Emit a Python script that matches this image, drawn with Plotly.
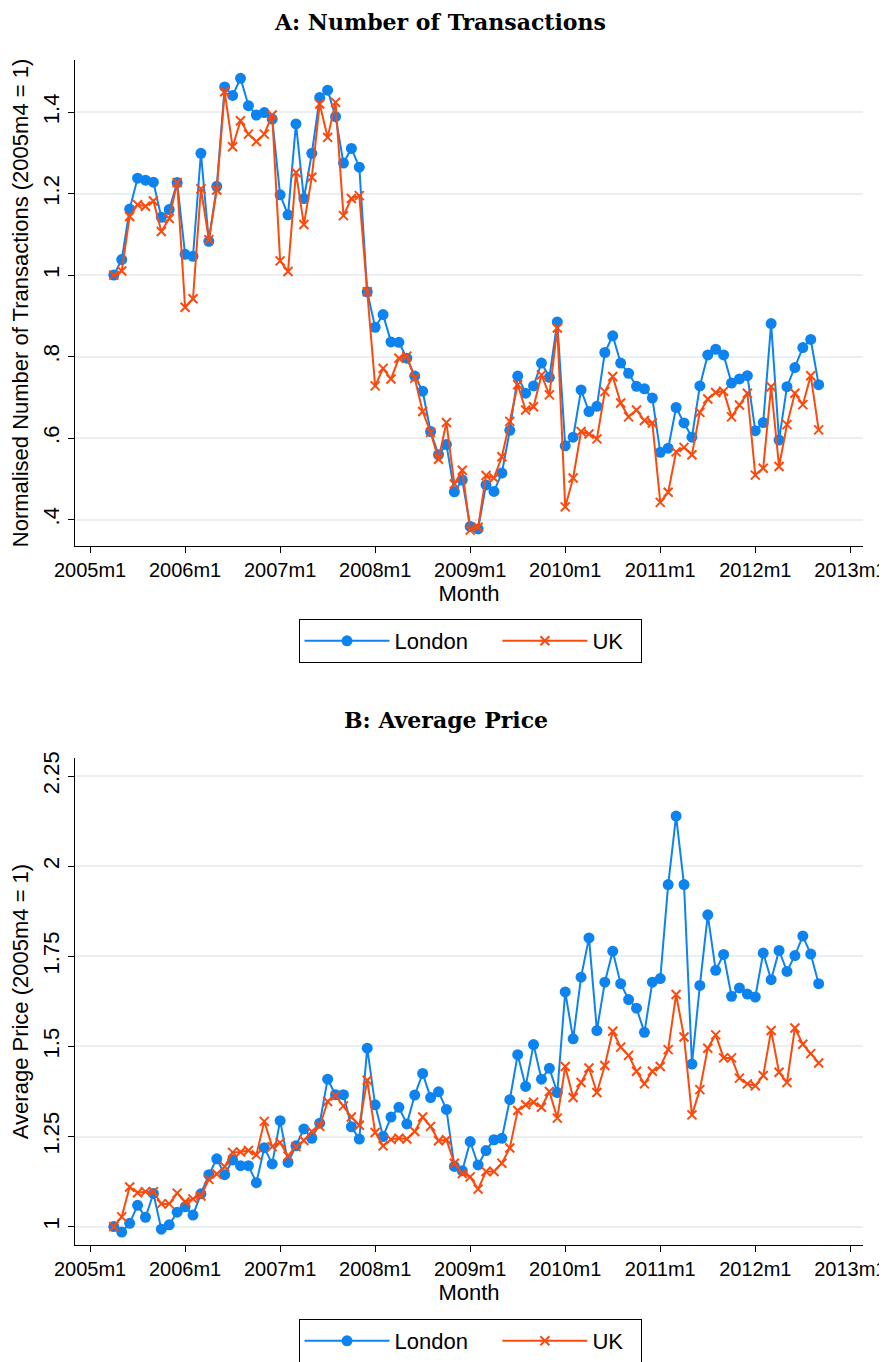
import plotly.graph_objects as go

# Months since 2005m1 (2005m4 .. 2012m9)
month_index = list(range(3, 93))

tick_months = [0, 12, 24, 36, 48, 60, 72, 84, 96]
tick_labels = ["2005m1", "2006m1", "2007m1", "2008m1", "2009m1", "2010m1", "2011m1", "2012m1", "2013m1"]

trans_london = [1.000, 1.038, 1.162, 1.238, 1.233, 1.228, 1.142, 1.161, 1.227, 1.051,
                1.046, 1.299, 1.083, 1.218, 1.462, 1.441, 1.483, 1.416, 1.393, 1.399,
                1.383, 1.197, 1.148, 1.371, 1.188, 1.299, 1.436, 1.454, 1.389, 1.275,
                1.311, 1.265, 0.959, 0.872, 0.903, 0.836, 0.835, 0.796, 0.752, 0.715,
                0.616, 0.559, 0.584, 0.468, 0.497, 0.383, 0.377, 0.485, 0.469, 0.514,
                0.619, 0.752, 0.710, 0.728, 0.784, 0.749, 0.885, 0.581, 0.602, 0.718,
                0.665, 0.678, 0.810, 0.851, 0.784, 0.759, 0.727, 0.721, 0.698, 0.565,
                0.575, 0.675, 0.637, 0.602, 0.728, 0.804, 0.818, 0.804, 0.735, 0.745,
                0.753, 0.618, 0.638, 0.881, 0.595, 0.726, 0.773, 0.822, 0.842, 0.731]

trans_uk = [1.000, 1.010, 1.144, 1.173, 1.169, 1.182, 1.107, 1.139, 1.227, 0.921,
            0.942, 1.212, 1.087, 1.209, 1.450, 1.315, 1.379, 1.346, 1.328, 1.346,
            1.393, 1.035, 1.009, 1.252, 1.124, 1.240, 1.420, 1.338, 1.424, 1.146,
            1.188, 1.195, 0.959, 0.728, 0.771, 0.745, 0.796, 0.801, 0.747, 0.665,
            0.614, 0.548, 0.638, 0.487, 0.521, 0.374, 0.381, 0.508, 0.502, 0.554,
            0.641, 0.731, 0.669, 0.677, 0.755, 0.706, 0.870, 0.431, 0.502, 0.616,
            0.610, 0.598, 0.714, 0.751, 0.686, 0.652, 0.669, 0.643, 0.637, 0.442,
            0.467, 0.566, 0.577, 0.559, 0.663, 0.696, 0.712, 0.715, 0.652, 0.681,
            0.710, 0.509, 0.526, 0.726, 0.530, 0.633, 0.710, 0.682, 0.753, 0.620]

price_london = [1.000, 0.985, 1.009, 1.059, 1.026, 1.092, 0.993, 1.005, 1.040, 1.055,
                1.032, 1.091, 1.144, 1.188, 1.144, 1.185, 1.169, 1.169, 1.122, 1.219,
                1.174, 1.294, 1.178, 1.224, 1.271, 1.245, 1.287, 1.409, 1.366, 1.366,
                1.277, 1.243, 1.495, 1.338, 1.250, 1.304, 1.331, 1.285, 1.365, 1.425,
                1.358, 1.374, 1.325, 1.167, 1.155, 1.236, 1.171, 1.211, 1.241, 1.245,
                1.352, 1.477, 1.389, 1.505, 1.409, 1.439, 1.372, 1.651, 1.521, 1.692,
                1.801, 1.544, 1.678, 1.764, 1.674, 1.630, 1.606, 1.539, 1.678, 1.688,
                1.949, 2.139, 1.949, 1.451, 1.669, 1.865, 1.711, 1.755, 1.639, 1.662,
                1.645, 1.637, 1.759, 1.685, 1.766, 1.708, 1.752, 1.806, 1.756, 1.674]

price_uk = [1.000, 1.027, 1.110, 1.094, 1.097, 1.097, 1.063, 1.063, 1.093, 1.069,
            1.077, 1.085, 1.131, 1.146, 1.166, 1.206, 1.207, 1.211, 1.199, 1.292,
            1.222, 1.233, 1.196, 1.222, 1.239, 1.264, 1.278, 1.347, 1.363, 1.335,
            1.304, 1.281, 1.406, 1.261, 1.224, 1.242, 1.245, 1.243, 1.264, 1.304,
            1.278, 1.238, 1.241, 1.176, 1.147, 1.138, 1.104, 1.153, 1.153, 1.176,
            1.218, 1.322, 1.338, 1.345, 1.331, 1.375, 1.301, 1.444, 1.358, 1.400,
            1.440, 1.372, 1.447, 1.542, 1.498, 1.475, 1.431, 1.396, 1.431, 1.444,
            1.491, 1.644, 1.526, 1.310, 1.380, 1.495, 1.532, 1.468, 1.468, 1.412,
            1.396, 1.391, 1.419, 1.544, 1.428, 1.400, 1.551, 1.506, 1.480, 1.454]

A_ticks = [0.4, 0.6, 0.8, 1.0, 1.2, 1.4]
A_ticktext = [".4", ".6", ".8", "1", "1.2", "1.4"]
B_ticks = [1.0, 1.25, 1.5, 1.75, 2.0, 2.25]
B_ticktext = ["1", "1.25", "1.5", "1.75", "2", "2.25"]

BLUE = "#0d83f0"
ORANGE = "#fb4a0e"
W, H = 887, 1362
OFF = 8  # page body margin shift

def px(x):
    return (x - OFF) / W

def py(y):
    return 1 - (y - OFF) / H

fig = go.Figure()

NB = "\u00a0"

def add_pair(london, uk, xa, ya, legend):
    fig.add_trace(go.Scatter(
        x=month_index, y=london, mode="lines+markers", name="London" + NB * 4,
        xaxis=xa, yaxis=ya, legend=legend,
        line=dict(color=BLUE, width=2),
        marker=dict(symbol="circle", size=11, color=BLUE)))
    fig.add_trace(go.Scatter(
        x=month_index, y=uk, mode="lines+markers", name="UK" + NB * 2,
        xaxis=xa, yaxis=ya, legend=legend,
        line=dict(color=ORANGE, width=2),
        marker=dict(symbol="x-thin", size=9, color=ORANGE,
                    line=dict(color=ORANGE, width=2))))

add_pair(trans_london, trans_uk, "x", "y", "legend")
add_pair(price_london, price_uk, "x2", "y2", "legend2")

xdom = [px(75), px(863)]
font_sans = "Liberation Sans, Arial, sans-serif"
FS = 22
axis_common = dict(showline=True, linecolor="black", linewidth=1,
                   ticks="outside", ticklen=6, tickcolor="black",
                   tickfont=dict(family=font_sans, size=FS, color="black"),
                   zeroline=False, automargin=False)

xcommon = dict(axis_common, range=[-1.9, 97.6], tickvals=tick_months,
               ticktext=tick_labels, showgrid=False, domain=xdom,
               ticklabeloverflow="allow",
               tickfont=dict(family=font_sans, size=20, color="black"),
               title=dict(text="Month", font=dict(family=font_sans, size=FS, color="black"),
                          standoff=0))

ycommon = dict(axis_common, tickangle=-90, showgrid=True, gridcolor="#e9eff3", gridwidth=1.5)

legend_common = dict(orientation="h", x=px(470), xanchor="center", yanchor="middle",
                     bordercolor="black", borderwidth=1, bgcolor="white",
                     font=dict(family=font_sans, size=FS, color="black"),
                     itemwidth=85, tracegroupgap=0)

fig.update_layout(
    width=W, height=H, margin=dict(l=0, r=0, t=0, b=0, autoexpand=False),
    plot_bgcolor="white", paper_bgcolor="white",
    showlegend=True,
    xaxis=dict(xcommon, anchor="y"),
    xaxis2=dict(xcommon, anchor="y2"),
    yaxis=dict(ycommon, domain=[py(546), py(60)], range=[0.335, 1.528],
               tickvals=A_ticks, ticktext=A_ticktext, anchor="x",
               title=dict(text="Normalised Number of Transactions (2005m4 = 1)",
                          font=dict(family=font_sans, size=FS, color="black"), standoff=8)),
    yaxis2=dict(ycommon, domain=[py(1245), py(758)], range=[0.949, 2.30],
                tickvals=B_ticks, ticktext=B_ticktext, anchor="x2",
                title=dict(text="Average Price (2005m4 = 1)",
                           font=dict(family=font_sans, size=FS, color="black"), standoff=8)),
    legend=dict(legend_common, y=py(641)),
    legend2=dict(legend_common, y=py(1341)),
    annotations=[
        dict(text="<b>A: Number of Transactions</b>", x=px(440), y=py(22), xref="paper", yref="paper",
             xanchor="center", yanchor="middle", showarrow=False,
             font=dict(family="DejaVu Serif, serif", size=22, color="black")),
        dict(text="<b>B: Average Price</b>", x=px(446), y=py(720), xref="paper", yref="paper",
             xanchor="center", yanchor="middle", showarrow=False,
             font=dict(family="DejaVu Serif, serif", size=22, color="black")),
    ],
)

fig.write_html("out.html")
